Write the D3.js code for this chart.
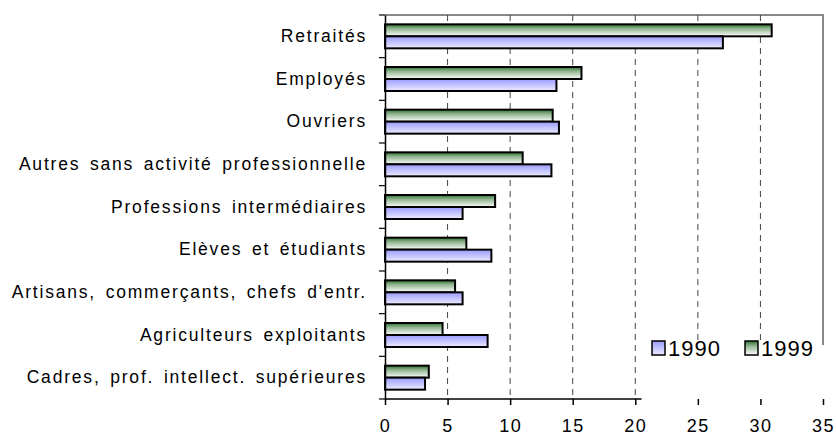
<!DOCTYPE html>
<meta charset="utf-8">
<script src="https://d3js.org/d3.v7.min.js"></script>
<style>
  body { margin: 0; background: #fff; }
  text { font-family: Arial, "Liberation Sans", sans-serif; }
</style>
<svg id="vis"></svg>
<script>
    // Data
    let categories = ['Retraités', 'Employés', 'Ouvriers', 'Autres sans activité professionnelle',
        'Professions intermédiaires', 'Elèves et étudiants', "Artisans, commerçants, chefs d'entr.",
        'Agriculteurs exploitants', 'Cadres, prof. intellect. supérieures']
    let v1999 = [30.9, 15.7, 13.4, 11.0, 8.8, 6.5, 5.6, 4.6, 3.5]
    let v1990 = [27.0, 13.7, 13.9, 13.3, 6.2, 8.5, 6.2, 8.2, 3.2]
    let xTicks = [0, 5, 10, 15, 20, 25, 30, 35]
    let gridTicks = [5, 10, 15, 20, 25, 30]

    var margin = {top: 15, right: 13, bottom: 40, left: 385},
        width = 836 - margin.left - margin.right,
        height = 439 - margin.top - margin.bottom;

    let svg = d3.select('#vis')
        .attr('width', 836)
        .attr('height', 439)
        .append('g')
        .attr('transform', 'translate(' + margin.left + ',' + margin.top + ')');

    // gradients
    let defs = d3.select('#vis').append('defs')
    let g1 = defs.append('linearGradient').attr('id', 'gGreen').attr('x1', 0).attr('y1', 0).attr('x2', 0).attr('y2', 1)
    g1.append('stop').attr('offset', '0%').attr('stop-color', '#2f6f2f')
    g1.append('stop').attr('offset', '35%').attr('stop-color', '#8fb48f')
    g1.append('stop').attr('offset', '100%').attr('stop-color', '#ffffff')
    let g2 = defs.append('linearGradient').attr('id', 'gBlue').attr('x1', 0).attr('y1', 0).attr('x2', 0).attr('y2', 1)
    g2.append('stop').attr('offset', '0%').attr('stop-color', '#9a9aff')
    g2.append('stop').attr('offset', '100%').attr('stop-color', '#ececff')

    var x = d3.scaleLinear().domain([0, 35]).range([0, width]);
    var y = d3.scaleBand().domain(categories).range([0, height]);

    // frame (top & right)
    svg.append('path')
        .attr('d', 'M0,0H' + x(35) + 'V' + height)
        .attr('fill', 'none')
        .attr('stroke', '#888')
        .attr('stroke-width', 2)

    // dashed gridlines
    svg.append('g')
        .selectAll('line')
        .data(gridTicks)
        .enter()
        .append('line')
        .attr('x1', d => x(d)).attr('x2', d => x(d))
        .attr('y1', 0).attr('y2', height)
        .attr('stroke', '#444')
        .attr('stroke-dasharray', '6,5')

    // bars
    let bh = 12
    let rows = svg.append('g')
        .selectAll('g')
        .data(categories)
        .enter()
        .append('g')
        .attr('transform', d => 'translate(0,' + (y(d) + y.bandwidth() / 2) + ')')

    rows.append('rect')
        .attr('x', 0)
        .attr('y', -bh)
        .attr('height', bh)
        .attr('width', (d, i) => x(v1999[i]))
        .attr('fill', 'url(#gGreen)')
        .attr('stroke', '#000')
        .attr('stroke-width', 2)
    rows.append('rect')
        .attr('x', 0)
        .attr('y', 0)
        .attr('height', bh)
        .attr('width', (d, i) => x(v1990[i]))
        .attr('fill', 'url(#gBlue)')
        .attr('stroke', '#000')
        .attr('stroke-width', 2)

    // legend background
    svg.append('rect')
        .attr('x', x(20.5)).attr('y', 330)
        .attr('width', 836 - margin.left - x(20.5)).attr('height', height - 330 + 0.5)
        .attr('fill', '#fff')

    // X axis
    let xa = svg.append('g')
        .attr('transform', 'translate(0,' + height + ')')
        .call(d3.axisBottom(x).tickValues(xTicks).tickSize(6).tickPadding(14))
    xa.select('.domain').attr('d', 'M0,0H' + x(20.5)).attr('stroke-width', 1.5)
    xa.selectAll('.tick line').attr('stroke-width', 1.5)
    xa.selectAll('text').style('font-size', '18px').style('letter-spacing', '1.5px').attr('fill', '#000')

    // Y axis
    let ya = svg.append('g')
        .call(d3.axisLeft(y).tickSize(0).tickPadding(18))
    ya.select('.domain').attr('stroke-width', 1.5)
    ya.selectAll('text').style('font-size', '17.5px').style('letter-spacing', '1.8px')
        .style('word-spacing', '3px').attr('fill', '#000')
    svg.append('g')
        .selectAll('line')
        .data(categories.concat(['end']))
        .enter()
        .append('line')
        .attr('x1', -6).attr('x2', 0)
        .attr('y1', (d, i) => i * y.step()).attr('y2', (d, i) => i * y.step())
        .attr('stroke', '#000')
        .attr('stroke-width', 1.2)

    // legend
    let legend = [['1990', 'url(#gBlue)'], ['1999', 'url(#gGreen)']]
    let lg = svg.append('g')
        .selectAll('g')
        .data(legend)
        .enter()
        .append('g')
        .attr('transform', (d, i) => 'translate(' + (267 + i * 93) + ',' + 326 + ')')
    lg.append('rect')
        .attr('width', 13).attr('height', 14)
        .attr('fill', d => d[1])
        .attr('stroke', '#000')
        .attr('stroke-width', 1.5)
    lg.append('text')
        .attr('x', 16).attr('y', 15)
        .style('font-size', '22px')
        .style('letter-spacing', '1px')
        .text(d => d[0])
</script>
